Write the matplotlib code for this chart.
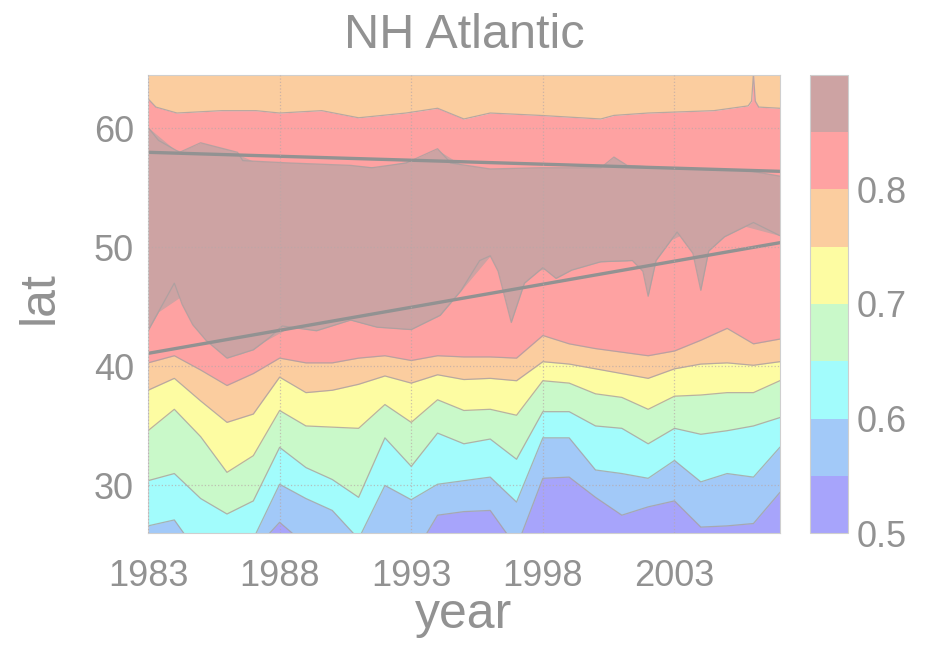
import numpy as np
import matplotlib
matplotlib.use("Agg")
import matplotlib.pyplot as plt
from matplotlib.colors import ListedColormap, BoundaryNorm
from matplotlib.cm import ScalarMappable

plt.rcParams['font.family'] = ['Liberation Sans', 'DejaVu Sans']

# ---- data ------------------------------------------------------------
years = np.arange(1983, 2008)

# latitude of each contour level, one value per year (lower flank)
lat_055 = [24.0, 24.0, 24.0, 24.0, 24.5, 26.9, 25.0, 24.5, 24.5, 25.0, 23.8, 27.5,
           27.8, 27.9, 24.8, 30.6, 30.7, 29.0, 27.5, 28.2, 28.7, 26.5, 26.6, 26.8, 29.4]
lat_060 = [26.6, 27.1, 24.0, 24.0, 25.5, 30.1, 28.9, 27.9, 25.5, 30.0, 28.8, 30.1,
           30.4, 30.7, 28.6, 34.0, 34.0, 31.3, 31.0, 30.6, 32.1, 30.3, 31.0, 30.7, 33.2]
lat_065 = [30.4, 31.0, 28.9, 27.6, 28.7, 33.2, 31.5, 30.5, 29.0, 34.0, 31.6, 34.4,
           33.5, 33.9, 32.2, 36.2, 36.2, 35.0, 34.8, 33.5, 34.8, 34.3, 34.6, 35.0, 35.7]
lat_070 = [34.6, 36.4, 34.1, 31.1, 32.5, 36.3, 35.0, 34.9, 34.8, 36.8, 35.3, 37.2,
           36.3, 36.4, 35.9, 38.8, 38.6, 37.7, 37.4, 36.4, 37.5, 37.6, 37.8, 37.8, 38.8]
lat_075 = [38.0, 39.0, 37.1, 35.3, 36.0, 39.1, 37.8, 38.0, 38.5, 39.2, 38.6, 39.3,
           38.9, 39.0, 38.8, 40.4, 40.2, 39.8, 39.4, 39.0, 39.8, 40.2, 40.3, 40.1, 40.4]
lat_080 = [40.3, 40.9, 39.7, 38.4, 39.4, 40.7, 40.3, 40.3, 40.7, 40.9, 40.5, 40.9,
           40.8, 40.8, 40.7, 42.6, 41.9, 41.5, 41.2, 40.9, 41.3, 42.2, 43.2, 41.9, 42.3]

# 0.85 contour, southern flank (rose core bottom)
core_lo_yr = [1983.0, 1984.0, 1984.3, 1984.7, 1985.2, 1986.0, 1987.0, 1987.6, 1988.1,
              1989.4, 1990.7, 1991.7, 1993.0, 1994.1, 1994.9, 1995.6, 1996.0, 1996.3,
              1996.8, 1997.3, 1998.0, 1998.5, 1999.1, 2000.2, 2001.4, 2001.8, 2002.0,
              2002.3, 2003.1, 2003.7, 2004.0, 2004.3, 2004.9, 2006.0, 2007.0]
core_lo = [43.0, 47.0, 45.2, 43.5, 42.2, 40.7, 41.4, 42.4, 43.4,
           43.0, 43.9, 43.3, 43.1, 44.3, 46.4, 48.9, 49.3, 48.0,
           43.7, 47.0, 48.3, 47.4, 48.1, 48.8, 48.9, 48.0, 45.9,
           48.9, 51.3, 49.5, 46.4, 49.7, 50.9, 52.1, 51.0]

# 0.85 contour, northern flank (rose core top)
core_hi_yr = [1983.0, 1983.4, 1984.2, 1985.0, 1986.4, 1986.6, 1988.4, 1990.7, 1991.5,
              1992.8, 1994.0, 1994.5, 1996.0, 1997.9, 2000.2, 2000.7, 2001.2, 2003.2,
              2005.7, 2007.0]
core_hi = [60.1, 59.0, 58.0, 58.8, 58.0, 57.3, 57.1, 56.9, 56.7,
           57.1, 58.3, 57.1, 56.6, 56.7, 56.7, 57.6, 56.9, 56.6,
           56.5, 56.0]

# 0.80 contour, northern flank
north_080_yr = [1983.0, 1983.3, 1984.1, 1985.8, 1987.1, 1988.0, 1989.6, 1991.0, 1992.8,
                1994.0, 1995.0, 1996.0, 1997.9, 2000.2, 2000.7, 2002.0, 2004.5, 2005.8,
                2005.93, 2006.0, 2006.07, 2006.2, 2007.0]
north_080 = [62.5, 61.8, 61.3, 61.5, 61.5, 61.3, 61.5, 60.9, 61.3,
             61.7, 60.8, 61.3, 61.1, 60.8, 61.1, 61.3, 61.5, 61.9,
             62.3, 64.6, 62.3, 61.8, 61.7]

# linear trends of the two flanks
trend_yr = [1983, 2007]
trend_north = [58.0, 56.4]
trend_south = [41.1, 50.4]

levels = [0.5, 0.55, 0.6, 0.65, 0.7, 0.75, 0.8, 0.85, 0.9]
colors = ['#a7a4fb', '#a2c9f8', '#a2fcfc', '#c9f9c9', '#fdfca2',
          '#fbcd9f', '#fea2a2', '#cda3a3']

# ---- figure ----------------------------------------------------------
ylo, yhi = 26.0, 64.5
txt = '#929292'

fig = plt.figure(figsize=(9.25, 6.61), dpi=100)
ax = fig.add_axes([0.16, 0.1936, 0.683, 0.693])
cax = fig.add_axes([0.8757, 0.1936, 0.041, 0.693])

# northern part: peach above 0.80 line, salmon below
ax.fill_between(north_080_yr, north_080, 70, color=colors[5], lw=0)
ax.fill_between(north_080_yr, 20, north_080, color=colors[6], lw=0)
# rose core between the two 0.85 flanks
ax.fill_between(core_lo_yr, core_lo, np.interp(core_lo_yr, core_hi_yr, core_hi),
                color=colors[7], lw=0)
ax.fill_between(core_hi_yr, np.interp(core_hi_yr, core_lo_yr, core_lo), core_hi,
                color=colors[7], lw=0)

# southern bands, painted from the top level down
south = [lat_080, lat_075, lat_070, lat_065, lat_060, lat_055]
south_cols = [colors[5], colors[4], colors[3], colors[2], colors[1], colors[0]]
for bound, c in zip(south, south_cols):
    ax.fill_between(years, 20, bound, color=c, lw=0)

# contour outlines
line_kw = dict(color='#a8a0a0', lw=0.9, alpha=0.8)
for bound in south:
    ax.plot(years, bound, **line_kw)
ax.plot(core_lo_yr, core_lo, **line_kw)
ax.plot(core_hi_yr, core_hi, **line_kw)
ax.plot(north_080_yr, north_080, **line_kw)

# trends
ax.plot(trend_yr, trend_north, color='#929292', lw=2.4)
ax.plot(trend_yr, trend_south, color='#929292', lw=2.4)

ax.set_xlim(1983, 2007)
ax.set_ylim(ylo, yhi)
ax.set_xticks([1983, 1988, 1993, 1998, 2003])
ax.set_yticks([30, 40, 50, 60])
ax.grid(True, color='#b8a8a8', linestyle=':', lw=0.9, alpha=0.7)
ax.set_axisbelow(False)
ax.tick_params(length=0, labelsize=26, labelcolor=txt)
ax.tick_params(axis='x', pad=19)
ax.tick_params(axis='y', pad=10)
for s in ax.spines.values():
    s.set_color('#cfcfcf')

# colorbar
cmap = ListedColormap(colors)
norm = BoundaryNorm(levels, cmap.N)
cb = fig.colorbar(ScalarMappable(norm=norm, cmap=cmap), cax=cax,
                  ticks=[0.5, 0.6, 0.7, 0.8])
cb.ax.minorticks_off()
cb.ax.tick_params(which='both', length=0, labelsize=26, labelcolor=txt, pad=6)
cb.outline.set_edgecolor('#cfcfcf')
cb.ax.set_yticklabels(['0.5', '0.6', '0.7', '0.8'])

fig.text(0.5016, 0.928, 'NH Atlantic', ha='center', va='baseline',
         fontsize=35, color=txt)
fig.text(0.5016, 0.05, 'year', ha='center', va='baseline', fontsize=36, color=txt)
fig.text(0.043, 0.55, 'lat', ha='center', va='center', rotation=90,
         fontsize=36, color=txt)

fig.savefig('out.png', dpi=100)
